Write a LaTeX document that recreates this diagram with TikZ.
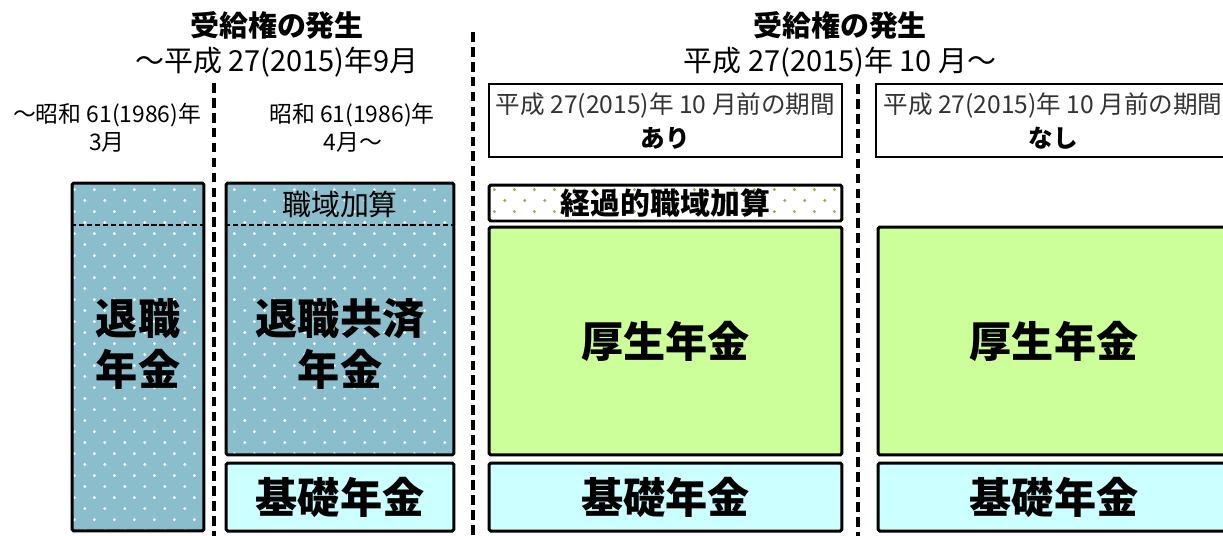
\documentclass[tikz,border=0pt]{standalone}
\usepackage{fontspec}
\setmainfont{Noto Sans CJK JP}
\usetikzlibrary{patterns.meta}

\definecolor{tealbase}{RGB}{138,190,204}
\definecolor{kouseigreen}{RGB}{204,255,153}
\definecolor{kisocyan}{RGB}{204,255,255}
\definecolor{dotgreen}{RGB}{140,178,80}

\tikzdeclarepattern{
  name=sparsedots,
  type=uncolored,
  bounding box={(0pt,0pt) and (11.4pt,12.5pt)},
  tile size={(11.4pt,12.5pt)},
  code={
    \fill (2.85pt,3.1pt) circle (0.95pt);
    \fill (8.55pt,9.35pt) circle (0.95pt);
  }
}

\tikzset{
  nenkin/.style={draw, line width=1.7pt, rounded corners=1pt, inner sep=0pt},
  kyosai/.style={nenkin, preaction={fill=tealbase}, preaction={pattern=sparsedots, pattern color=white}},
  kouseinenkin/.style={nenkin, fill=kouseigreen},
  kisonenkin/.style={nenkin, fill=kisocyan},
  keika/.style={nenkin, preaction={fill=white}, preaction={pattern=sparsedots, pattern color=dotgreen}},
  kikan/.style={draw, line width=0.8pt, inner sep=0pt},
  sikiri/.style={line width=2.2pt, dash pattern=on 5.5pt off 3pt},
  kasan/.style={line width=0.6pt, dash pattern=on 3pt off 1.6pt},
  bigtxt/.style={font=\fontsize{24}{29}\selectfont\bfseries, align=center},
  midtxt/.style={font=\fontsize{16.5}{20}\selectfont},
  smalltxt/.style={font=\fontsize{13}{15}\selectfont}
}

\begin{document}
\begin{tikzpicture}[x=0.02cm, y=-0.02cm]
			\useasboundingbox (0,0) rectangle (1223,535);
			\clip (0,0) rectangle (1223,535);
			
			% titles
			\node[midtxt, font=\fontsize{16.5}{20}\selectfont\bfseries] (hassei1) at (277,25) {受給権の発生};
			\node[midtxt] (hassei1b) at (277,62) {～平成 27(2015)年9月};
			\node[midtxt, font=\fontsize{16.5}{20}\selectfont\bfseries] (hassei2) at (840,25) {受給権の発生};
			\node[midtxt] (hassei2b) at (840,62) {平成 27(2015)年 10 月～};
			\node[smalltxt] (showa1) at (107,115) {～昭和 61(1986)年};
			\node[smalltxt] (showa1b) at (107,142) {3月};
			\node[smalltxt] (showa2) at (352,115) {昭和 61(1986)年};
			\node[smalltxt] (showa2b) at (353,142) {4月～};
			
			% dividers
			\draw[sikiri] (214,83) -- (214,540);
			\draw[sikiri] (473,32) -- (473,540);
			\draw[sikiri] (858,84) -- (858,540);
			
			% before 1986
			\node[kyosai, minimum width=2.64cm, minimum height=6.96cm] (taishoku) at (138,357) {};
			\draw[kasan] (taishoku.west |- 0,225) -- (taishoku.east |- 0,225);
			\node[bigtxt] (taishokutxt) at (138,344) {退職\\年金};
			
			% 1986 - 2015
			\node[kyosai, minimum width=4.56cm, minimum height=5.44cm] (kyosai) at (340,319) {};
			\draw[kasan] (kyosai.west |- 0,225) -- (kyosai.east |- 0,225);
			\node[midtxt] (shokuiki) at (340,204) {職域加算};
			\node[bigtxt] (kyosaitxt) at (340,344) {退職共済\\年金};
			\node[kisonenkin, minimum width=4.56cm, minimum height=1.36cm] (kiso1) at (340,497) {};
			\node[bigtxt] at (kiso1) {基礎年金};
			
			% after 2015, with period
			\node[kikan, minimum width=7.06cm, minimum height=1.46cm] (ari) at (665.5,120.5) {};
			\node[smalltxt, font=\fontsize{14}{16}\selectfont, text=black!80] (ari1) at (665.5,106) {平成 27(2015)年 10 月前の期間};
			\node[font=\fontsize{14}{16}\selectfont\bfseries] (ari2) at (665.5,138) {あり};
			\node[keika, minimum width=7.06cm, minimum height=0.72cm] (keika) at (665.5,203) {};
			\node[font=\fontsize{17}{20}\selectfont\bfseries] at (keika) {経過的職域加算};
			\node[kouseinenkin, minimum width=7.06cm, minimum height=4.56cm] (kousei1) at (665.5,341) {};
			\node[bigtxt] at (kousei1) {厚生年金};
			\node[kisonenkin, minimum width=7.06cm, minimum height=1.36cm] (kiso2) at (665.5,497) {};
			\node[bigtxt] at (kiso2) {基礎年金};
			
			% after 2015, without period
			\node[kikan, minimum width=7.08cm, minimum height=1.46cm] (nashi) at (1053,120.5) {};
			\node[smalltxt, font=\fontsize{14}{16}\selectfont, text=black!80] (nashi1) at (1053,106) {平成 27(2015)年 10 月前の期間};
			\node[font=\fontsize{14}{16}\selectfont\bfseries] (nashi2) at (1053,138) {なし};
			\node[kouseinenkin, minimum width=7.04cm, minimum height=4.56cm] (kousei2) at (1054,341) {};
			\node[bigtxt] at (kousei2) {厚生年金};
			\node[kisonenkin, minimum width=7.04cm, minimum height=1.36cm] (kiso3) at (1054,497) {};
			\node[bigtxt] at (kiso3) {基礎年金};
\end{tikzpicture}
\end{document}
